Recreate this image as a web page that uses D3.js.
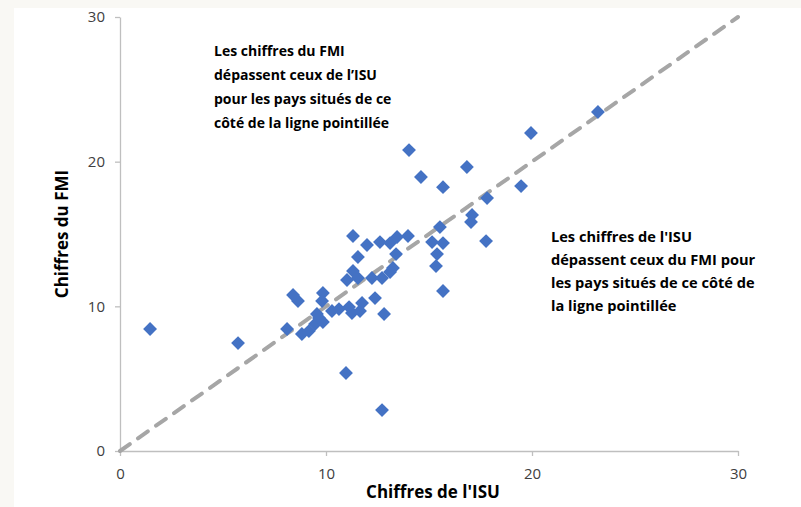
<!DOCTYPE html>
<html>
<head>
<meta charset="utf-8">
<script src="https://cdn.jsdelivr.net/npm/d3@7"></script>
<style>
  body { margin: 0; background: #f9f8f4; }
  svg { display: block; }
  .tick text { font-family: "Open Sans", sans-serif; font-size: 15px; fill: #404040; }
</style>
</head>
<body>
<div id="container"></div>
<script>
/* DATA */
// ISU (x) and FMI (y) figures, one per country
const isu = [1.46, 5.73, 8.11, 8.40, 8.64, 9.85, 9.81, 8.83, 9.17, 9.47, 9.56, 9.85, 9.66,
  10.29, 10.63, 11.12, 11.26, 11.65, 11.75, 12.38, 12.82, 10.97, 12.72, 11.02, 11.31,
  11.55, 12.23, 12.72, 13.25, 13.11, 11.55, 13.40, 11.31, 11.99, 12.62, 13.11, 13.45,
  13.98, 14.03, 14.61, 15.68, 16.84, 15.53, 15.15, 15.68, 15.39, 15.34, 15.68, 17.09,
  17.04, 17.77, 17.82, 19.47, 19.95, 23.20];
const fmi = [8.43, 7.46, 8.43, 10.78, 10.37, 10.92, 10.37, 8.09, 8.29, 8.78, 9.47, 8.92, 9.19,
  9.68, 9.81, 9.95, 9.54, 9.68, 10.23, 10.57, 9.47, 5.39, 2.83, 11.82, 12.44,
  11.96, 11.96, 11.96, 12.65, 12.37, 13.41, 13.61, 14.86, 14.24, 14.44, 14.37, 14.79,
  14.86, 20.80, 18.94, 18.24, 19.63, 15.48, 14.44, 14.37, 13.61, 12.78, 11.06, 16.31,
  15.83, 14.51, 17.48, 18.31, 21.98, 23.43];
const ticks = [0, 10, 20, 30];
const noteFmi = ["Les chiffres du FMI", "dépassent ceux de l’ISU", "pour les pays situés de ce", "côté de la ligne pointillée"];
const noteIsu = ["Les chiffres de l'ISU", "dépassent ceux du FMI pour", "les pays situés de ce côté de", "la ligne pointillée"];

const W = 801, H = 507;
const margin = {top: 17, right: 63, bottom: 56, left: 120};
const width = W - margin.left - margin.right,
      height = H - margin.top - margin.bottom;

const svg = d3.select("#container").append("svg")
  .attr("width", W).attr("height", H);

// white plot panel
svg.append("rect").attr("x", 14).attr("y", 8)
  .attr("width", W - 14).attr("height", H - 8).attr("fill", "#ffffff");

const g = svg.append("g").attr("transform", `translate(${margin.left},${margin.top})`);

const x = d3.scaleLinear().domain([0, 30]).range([0, width]);
const y = d3.scaleLinear().domain([0, 30]).range([height, 0]);

// axes
const xAxis = g.append("g").attr("transform", `translate(0,${height})`)
  .call(d3.axisBottom(x).tickValues(ticks).tickSize(5).tickPadding(12).tickSizeOuter(0));
const yAxis = g.append("g")
  .call(d3.axisLeft(y).tickValues(ticks).tickSize(5).tickPadding(10).tickSizeOuter(0));
[xAxis, yAxis].forEach(a => {
  a.select(".domain").attr("stroke", "#bfbfbf").attr("stroke-width", 1.3);
  a.selectAll(".tick line").attr("stroke", "#bfbfbf").attr("stroke-width", 1.3);
});

// dashed 1:1 line
g.append("line")
  .attr("x1", x(0)).attr("y1", y(0)).attr("x2", x(30)).attr("y2", y(30))
  .attr("stroke", "#a6a6a6").attr("stroke-width", 4)
  .attr("stroke-dasharray", "12,10").attr("stroke-linecap", "round");

// points
const pts = isu.map((v, i) => ({isu: v, fmi: fmi[i]}));
g.selectAll(".dot").data(pts).join("path")
  .attr("class", "dot")
  .attr("d", d3.symbol(d3.symbolSquare, 96))
  .attr("transform", d => `translate(${x(d.isu)},${y(d.fmi)}) rotate(45)`)
  .attr("fill", "#4472c4");

// axis titles
svg.append("text").attr("x", 433).attr("y", 498).attr("text-anchor", "middle")
  .attr("font-family", "Open Sans, sans-serif").attr("font-weight", "bold")
  .attr("font-size", 17).attr("fill", "#000").text("Chiffres de l'ISU");
svg.append("text").attr("transform", "translate(68,234) rotate(-90)").attr("text-anchor", "middle")
  .attr("font-family", "Open Sans, sans-serif").attr("font-weight", "bold")
  .attr("font-size", 17).attr("fill", "#000").text("Chiffres du FMI");

// annotations
function note(lines, x0, y0, step, size) {
  svg.append("text")
    .attr("font-family", "Open Sans, sans-serif").attr("font-weight", "bold")
    .attr("font-size", size).attr("fill", "#000")
    .selectAll("tspan").data(lines).join("tspan")
    .attr("x", x0).attr("y", (d, i) => y0 + i * step).text(d => d);
}
note(noteFmi, 214, 56, 24, 14);
note(noteIsu, 551, 242, 23, 14.6);
</script>
</body>
</html>
